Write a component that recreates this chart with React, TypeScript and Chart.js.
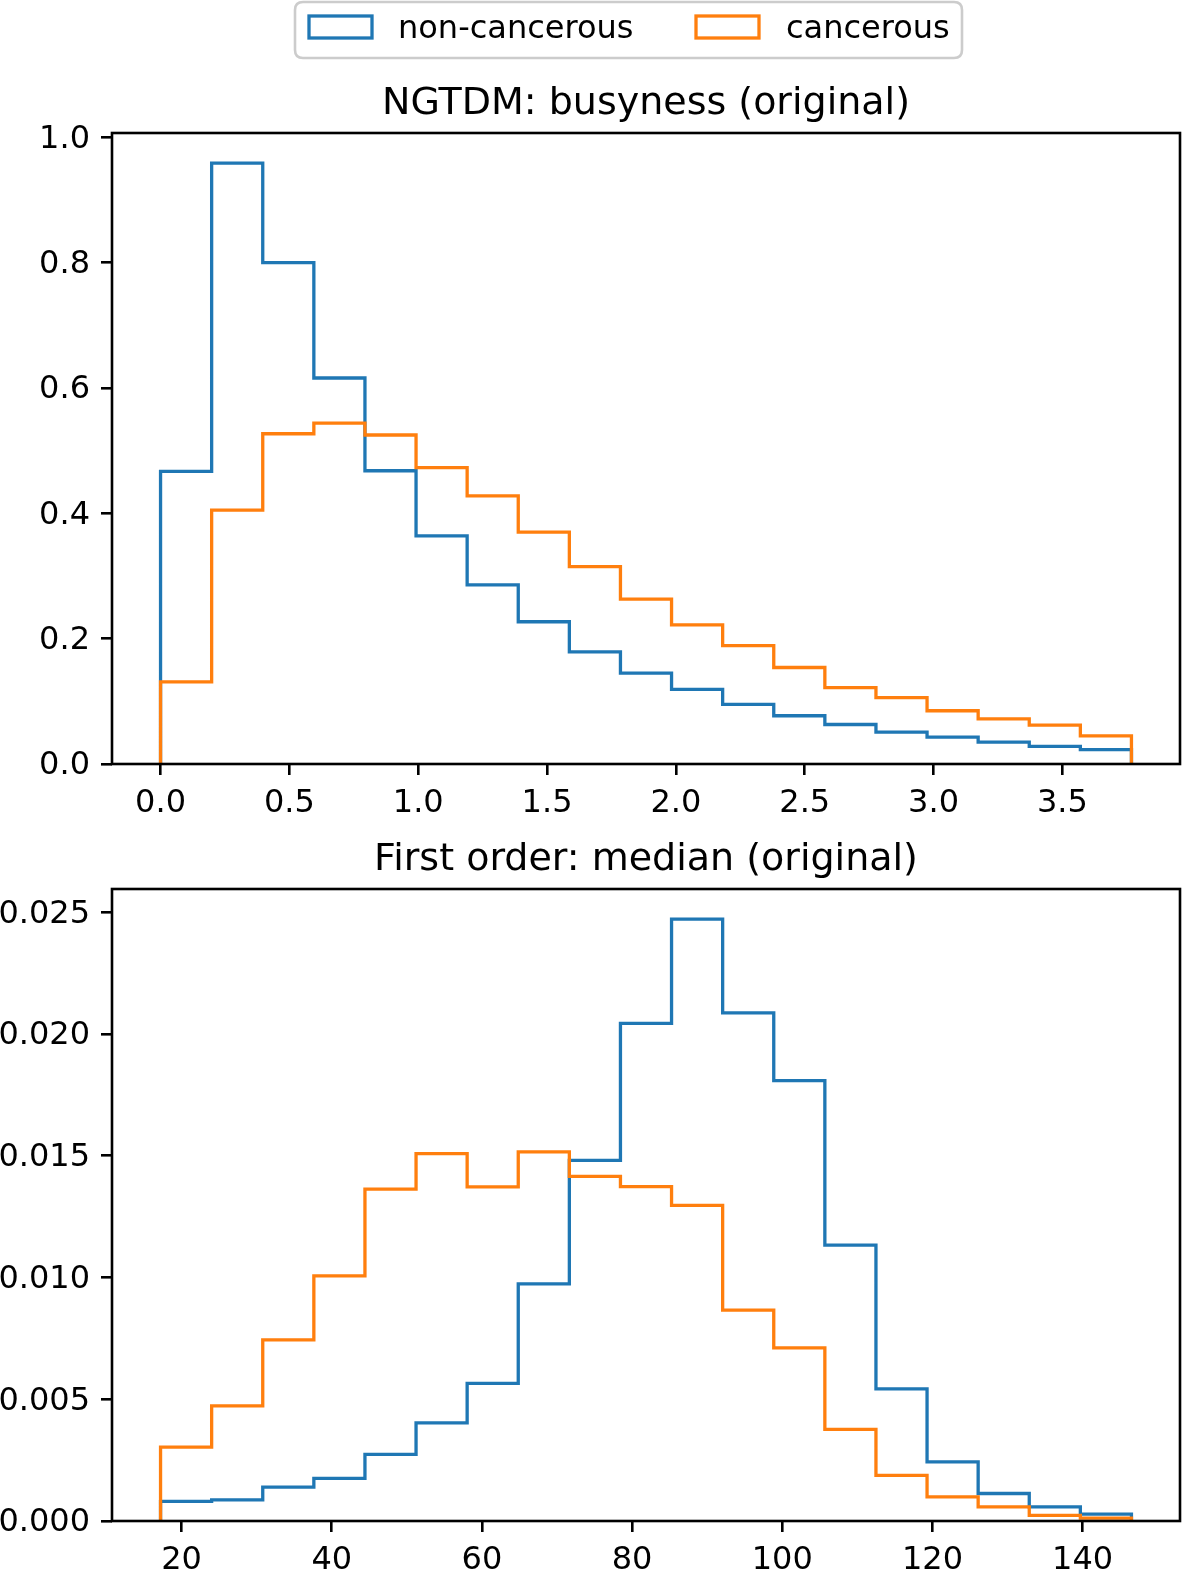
import React, { useEffect, useRef } from "react";
import { Chart, registerables } from "chart.js";

Chart.register(...registerables);

// ---------------- data ----------------
const seriesLabels = ["non-cancerous", "cancerous"];
const seriesColors = ["#1f77b4", "#ff7f0e"];

// Panel 1: NGTDM busyness (density histogram, 19 bins)
const busynessTitle = "NGTDM: busyness (original)";
const busynessRange = [0, 3.768];
const busynessNonCancerous = [0.467, 0.959, 0.8, 0.616, 0.468, 0.364, 0.286, 0.227, 0.179, 0.145, 0.119, 0.095, 0.077, 0.063, 0.051, 0.043, 0.035, 0.028, 0.023];
const busynessCancerous = [0.131, 0.405, 0.527, 0.544, 0.525, 0.473, 0.428, 0.37, 0.315, 0.263, 0.222, 0.189, 0.154, 0.122, 0.106, 0.085, 0.072, 0.062, 0.045];
const busynessXTicks = [0, 0.5, 1.0, 1.5, 2.0, 2.5, 3.0, 3.5];
const busynessYTicks = [0, 0.2, 0.4, 0.6, 0.8, 1.0];

// Panel 2: First order median (density histogram, 19 bins)
const medianTitle = "First order: median (original)";
const medianRange = [17.2, 146.5];
const medianNonCancerous = [0.00081, 0.00087, 0.00139, 0.00175, 0.00274, 0.00403, 0.00565, 0.00974, 0.01481, 0.02044, 0.02472, 0.02087, 0.01809, 0.01133, 0.00543, 0.00243, 0.00113, 0.00058, 0.00028];
const medianCancerous = [0.00303, 0.00473, 0.00744, 0.01007, 0.01363, 0.01509, 0.01372, 0.01516, 0.01415, 0.01373, 0.01296, 0.00866, 0.00711, 0.00376, 0.00187, 0.00099, 0.00058, 0.00023, 0.00012];
const medianXTicks = [20, 40, 60, 80, 100, 120, 140];
const medianYTicks = [0, 0.005, 0.01, 0.015, 0.02, 0.025];

// ---------------- helpers ----------------
const FONT = "'DejaVu Sans', 'Liberation Sans', sans-serif";
const W = 1182;

function stepPoints(range: number[], values: number[]) {
  const n = values.length;
  const w = (range[1] - range[0]) / n;
  const pts: { x: number; y: number }[] = [{ x: range[0], y: 0 }];
  values.forEach((v, i) => {
    pts.push({ x: range[0] + i * w, y: v });
    pts.push({ x: range[0] + (i + 1) * w, y: v });
  });
  pts.push({ x: range[1], y: 0 });
  return pts;
}

const framePlugin = {
  id: "frame",
  afterDatasetsDraw(chart: any) {
    const { ctx, chartArea } = chart;
    ctx.save();
    ctx.strokeStyle = "#000";
    ctx.lineWidth = 2.6;
    ctx.strokeRect(chartArea.left, chartArea.top, chartArea.right - chartArea.left, chartArea.bottom - chartArea.top);
    const t = chart.options.plugins.panelTitle;
    if (t && t.text) {
      ctx.fillStyle = "#000";
      ctx.font = `38px ${FONT}`;
      ctx.textAlign = "center";
      ctx.textBaseline = "alphabetic";
      ctx.fillText(t.text, (chartArea.left + chartArea.right) / 2, chartArea.top - 19);
    }
    const lg = chart.options.plugins.boxLegend;
    if (lg && lg.show) {
      const x0 = 295, y0 = 2, x1 = 962, y1 = 58, r = 8;
      ctx.beginPath();
      ctx.moveTo(x0 + r, y0);
      ctx.lineTo(x1 - r, y0);
      ctx.quadraticCurveTo(x1, y0, x1, y0 + r);
      ctx.lineTo(x1, y1 - r);
      ctx.quadraticCurveTo(x1, y1, x1 - r, y1);
      ctx.lineTo(x0 + r, y1);
      ctx.quadraticCurveTo(x0, y1, x0, y1 - r);
      ctx.lineTo(x0, y0 + r);
      ctx.quadraticCurveTo(x0, y0, x0 + r, y0);
      ctx.closePath();
      ctx.fillStyle = "rgba(255,255,255,0.8)";
      ctx.fill();
      ctx.strokeStyle = "#cccccc";
      ctx.lineWidth = 2.6;
      ctx.stroke();
      const items = [
        { hx: 309, tx: 398 },
        { hx: 696, tx: 786 },
      ];
      ctx.font = `32px ${FONT}`;
      ctx.textAlign = "left";
      ctx.textBaseline = "middle";
      items.forEach((it, i) => {
        ctx.strokeStyle = seriesColors[i];
        ctx.lineWidth = 3.3;
        ctx.strokeRect(it.hx, 16, 63, 22);
        ctx.fillStyle = "#000";
        ctx.fillText(seriesLabels[i], it.tx, 30);
      });
    }
    ctx.restore();
  },
};

function makeConfig(opts: {
  range: number[];
  a: number[];
  b: number[];
  xTicks: number[];
  yTicks: number[];
  xDigits: number;
  yDigits: number;
  title: string;
  legend: boolean;
  padTop: number;
  xAxisH: number;
}) {
  const span = opts.range[1] - opts.range[0];
  const ymax = Math.max(...opts.a, ...opts.b) * 1.05;
  const tickFont = { family: FONT, size: 32 };
  return {
    type: "line",
    data: {
      datasets: [
        {
          label: seriesLabels[0],
          data: stepPoints(opts.range, opts.a),
          borderColor: seriesColors[0],
          borderWidth: 3.3,
          pointRadius: 0,
          fill: false,
          tension: 0,
          order: 1,
          borderJoinStyle: "miter",
        },
        {
          label: seriesLabels[1],
          data: stepPoints(opts.range, opts.b),
          borderColor: seriesColors[1],
          borderWidth: 3.3,
          pointRadius: 0,
          fill: false,
          tension: 0,
          order: 0,
          borderJoinStyle: "miter",
        },
      ],
    },
    options: {
      animation: false,
      responsive: false,
      devicePixelRatio: 1,
      events: [],
      layout: { padding: { top: opts.padTop, left: 0, right: 2, bottom: 0 } },
      plugins: {
        legend: { display: false },
        tooltip: { enabled: false },
        title: { display: false },
        panelTitle: { text: opts.title },
        boxLegend: { show: opts.legend },
      },
      scales: {
        x: {
          type: "linear",
          min: opts.range[0] - span * 0.05,
          max: opts.range[1] + span * 0.05,
          afterBuildTicks: (s: any) => {
            s.ticks = opts.xTicks.map((v) => ({ value: v }));
          },
          afterFit: (s: any) => {
            s.height = opts.xAxisH;
          },
          grid: { drawOnChartArea: false, drawTicks: true, tickLength: 11, color: "#000", lineWidth: 2.6 },
          border: { display: false },
          ticks: {
            font: tickFont,
            color: "#000",
            padding: 9,
            maxRotation: 0,
            autoSkip: false,
            callback: (v: any) => Number(v).toFixed(opts.xDigits),
          },
        },
        y: {
          type: "linear",
          min: 0,
          max: ymax,
          afterBuildTicks: (s: any) => {
            s.ticks = opts.yTicks.map((v) => ({ value: v }));
          },
          afterFit: (s: any) => {
            s.width = 112;
          },
          grid: { drawOnChartArea: false, drawTicks: true, tickLength: 11, color: "#000", lineWidth: 2.6 },
          border: { display: false },
          ticks: {
            font: tickFont,
            color: "#000",
            padding: 11,
            labelOffset: 2,
            autoSkip: false,
            callback: (v: any) => Number(v).toFixed(opts.yDigits),
          },
        },
      },
    },
    plugins: [framePlugin],
  };
}

function Panel(props: { top: number; height: number; config: any }) {
  const ref = useRef<HTMLCanvasElement | null>(null);
  useEffect(() => {
    if (!ref.current) return;
    const chart = new Chart(ref.current, props.config);
    return () => chart.destroy();
  }, []);
  return (
    <canvas
      ref={ref}
      width={W}
      height={props.height}
      style={{ position: "absolute", left: 0, top: props.top, width: W, height: props.height }}
    />
  );
}

export default function App() {
  const topCfg = makeConfig({
    range: busynessRange,
    a: busynessNonCancerous,
    b: busynessCancerous,
    xTicks: busynessXTicks,
    yTicks: busynessYTicks,
    xDigits: 1,
    yDigits: 1,
    title: busynessTitle,
    legend: true,
    padTop: 133,
    xAxisH: 830 - 764,
  });
  const botCfg = makeConfig({
    range: medianRange,
    a: medianNonCancerous,
    b: medianCancerous,
    xTicks: medianXTicks,
    yTicks: medianYTicks,
    xDigits: 0,
    yDigits: 3,
    title: medianTitle,
    legend: false,
    padTop: 889 - 830,
    xAxisH: 1569 - 1521,
  });
  return (
    <div style={{ position: "absolute", left: 0, top: 0, width: W, height: 1569, overflow: "hidden", background: "#fff" }}>
      <Panel top={0} height={830} config={topCfg} />
      <Panel top={830} height={739} config={botCfg} />
    </div>
  );
}
